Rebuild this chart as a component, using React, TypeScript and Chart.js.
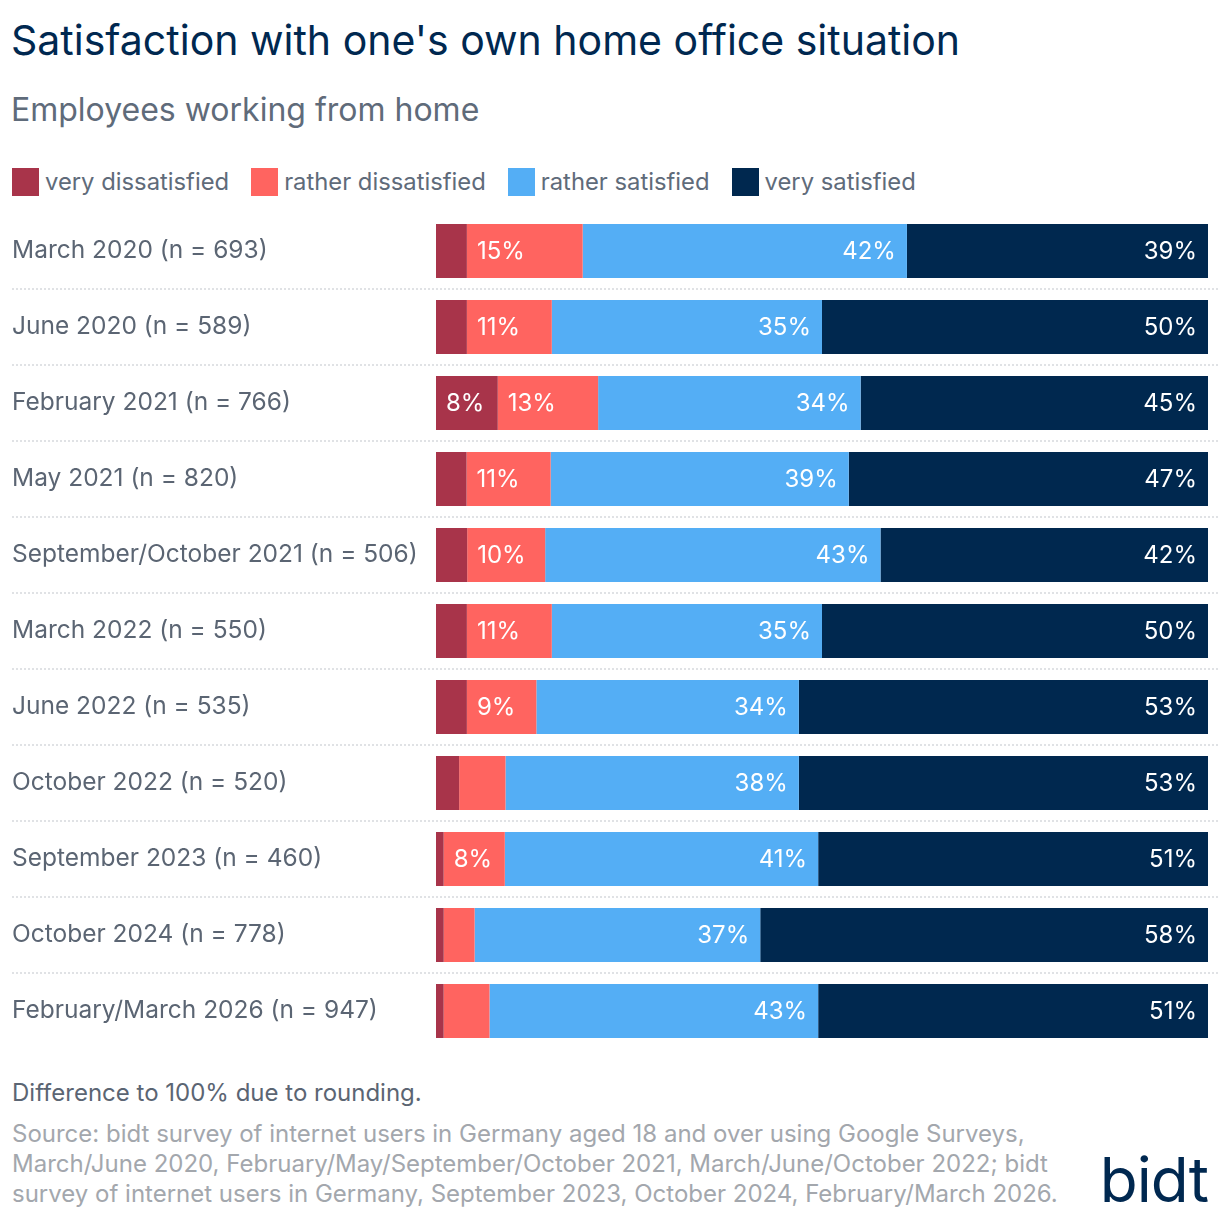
import { useEffect, useRef } from "react";
import { Chart, BarController, BarElement, CategoryScale, LinearScale } from "chart.js";

Chart.register(BarController, BarElement, CategoryScale, LinearScale);

const FONT = "Inter, 'Noto Sans', sans-serif";

const categories = [
  "March 2020 (n = 693)",
  "June 2020 (n = 589)",
  "February 2021 (n = 766)",
  "May 2021 (n = 820)",
  "September/October 2021 (n = 506)",
  "March 2022 (n = 550)",
  "June 2022 (n = 535)",
  "October 2022 (n = 520)",
  "September 2023 (n = 460)",
  "October 2024 (n = 778)",
  "February/March 2026 (n = 947)",
];

const seriesNames = ["very dissatisfied", "rather dissatisfied", "rather satisfied", "very satisfied"];
const seriesColors = ["#a8344a", "#ff6460", "#54aef5", "#00284f"];

// published shares in %, rows don't always add to 100 (rounding)
const veryDissatisfied = [4, 4, 8, 4, 4, 4, 4, 3, 1, 1, 1];
const ratherDissatisfied = [15, 11, 13, 11, 10, 11, 9, 6, 8, 4, 6];
const ratherSatisfied = [42, 35, 34, 39, 43, 35, 34, 38, 41, 37, 43];
const verySatisfied = [39, 50, 45, 47, 42, 50, 53, 53, 51, 58, 51];

const series = [veryDissatisfied, ratherDissatisfied, ratherSatisfied, verySatisfied];
const minLabelValue = 7;

const rowTotals = categories.map((_, i) => series.reduce((s, arr) => s + arr[i], 0));

const separators = {
  id: "separators",
  beforeDatasetsDraw(chart: any) {
    const { ctx } = chart;
    const y = chart.scales.y;
    ctx.save();
    ctx.strokeStyle = "#e0e2e5";
    ctx.lineWidth = 2;
    ctx.setLineDash([2, 2]);
    for (let i = 0; i < categories.length - 1; i++) {
      const py = Math.round((y.getPixelForValue(i) + y.getPixelForValue(i + 1)) / 2);
      ctx.beginPath();
      ctx.moveTo(12, py);
      ctx.lineTo(chart.width, py);
      ctx.stroke();
    }
    ctx.restore();
  },
};

const valueLabels = {
  id: "valueLabels",
  afterDatasetsDraw(chart: any) {
    const { ctx } = chart;
    ctx.save();
    ctx.font = `24px ${FONT}`;
    ctx.fillStyle = "#ffffff";
    ctx.textBaseline = "middle";
    series.forEach((raw, di) => {
      chart.getDatasetMeta(di).data.forEach((bar: any, i: number) => {
        if (raw[i] < minLabelValue) return;
        const { x, base, y } = bar.getProps(["x", "base", "y"], true);
        const left = di < 2;
        ctx.textAlign = left ? "left" : "right";
        ctx.fillText(raw[i] + "%", left ? base + 10 : x - 11, y + 1);
      });
    });
    ctx.restore();
  },
};

function BarsChart() {
  const canvasRef = useRef<HTMLCanvasElement>(null);
  const chartRef = useRef<Chart | null>(null);

  useEffect(() => {
    const ctx = canvasRef.current?.getContext("2d");
    if (!ctx) return;
    chartRef.current?.destroy();

    chartRef.current = new Chart(ctx, {
      type: "bar",
      data: {
        labels: categories,
        datasets: series.map((arr, di) => ({
          label: seriesNames[di],
          data: arr.map((v, i) => (v / rowTotals[i]) * 100),
          backgroundColor: seriesColors[di],
          borderWidth: 0,
          barPercentage: 54 / 76,
          categoryPercentage: 1,
        })),
      },
      options: {
        indexAxis: "y",
        animation: false,
        responsive: true,
        maintainAspectRatio: false,
        layout: { padding: { left: 12, right: 12, top: 20, bottom: 20 } },
        plugins: { legend: { display: false }, tooltip: { enabled: false } },
        scales: {
          x: { stacked: true, min: 0, max: 100, display: false },
          y: {
            stacked: true,
            grid: { display: false },
            border: { display: false },
            ticks: {
              crossAlign: "far",
              padding: 0,
              color: "#5b6573",
              font: { family: FONT, size: 24.5 },
            },
            afterFit(scale: any) {
              scale.width = 424;
            },
          },
        },
      },
      plugins: [separators, valueLabels],
    });

    return () => {
      chartRef.current?.destroy();
      chartRef.current = null;
    };
  }, []);

  // plot area spans y 213..1049 on the page
  return (
    <div style={{ position: "absolute", left: 0, top: 193, width: 1220, height: 876 }}>
      <canvas ref={canvasRef} />
    </div>
  );
}

export default function App() {
  return (
    <div
      style={{
        position: "absolute",
        left: 0,
        top: 0,
        width: 1220,
        height: 1218,
        background: "#fff",
        fontFamily: FONT,
        overflow: "hidden",
      }}
    >
      <div style={{ position: "absolute", left: 11, top: 17, fontSize: 41, lineHeight: "46px", color: "#002850" }}>
        Satisfaction with one's own home office situation
      </div>
      <div style={{ position: "absolute", left: 11, top: 92, fontSize: 32, lineHeight: "36px", color: "#5f6b7a" }}>
        Employees working from home
      </div>
      <div style={{ position: "absolute", left: 12, top: 168, display: "flex", alignItems: "center" }}>
        {seriesNames.map((name, i) => (
          <div key={name} style={{ display: "flex", alignItems: "center", marginRight: 22 }}>
            <span style={{ width: 27, height: 28, background: seriesColors[i], display: "inline-block" }} />
            <span style={{ marginLeft: 6, fontSize: 23.8, lineHeight: "28px", color: "#5f6b7a" }}>{name}</span>
          </div>
        ))}
      </div>
      <BarsChart />
      <div style={{ position: "absolute", left: 12, top: 1078, fontSize: 24, lineHeight: "30px", color: "#5b6573" }}>
        Difference to 100% due to rounding.
      </div>
      <div
        style={{
          position: "absolute",
          left: 12,
          top: 1119,
          width: 1085,
          fontSize: 24,
          lineHeight: "30px",
          color: "#a3a7ad",
          whiteSpace: "nowrap",
        }}
      >
        Source: bidt survey of internet users in Germany aged 18 and over using Google Surveys,
        <br />
        March/June 2020, February/May/September/October 2021, March/June/October 2022; bidt
        <br />
        survey of internet users in Germany, September 2023, October 2024, February/March 2026.
      </div>
      <div
        style={{
          position: "absolute",
          right: 12,
          top: 1144,
          fontSize: 62,
          lineHeight: "72px",
          color: "#002850",
          letterSpacing: -1,
        }}
      >
        bidt
      </div>
    </div>
  );
}
